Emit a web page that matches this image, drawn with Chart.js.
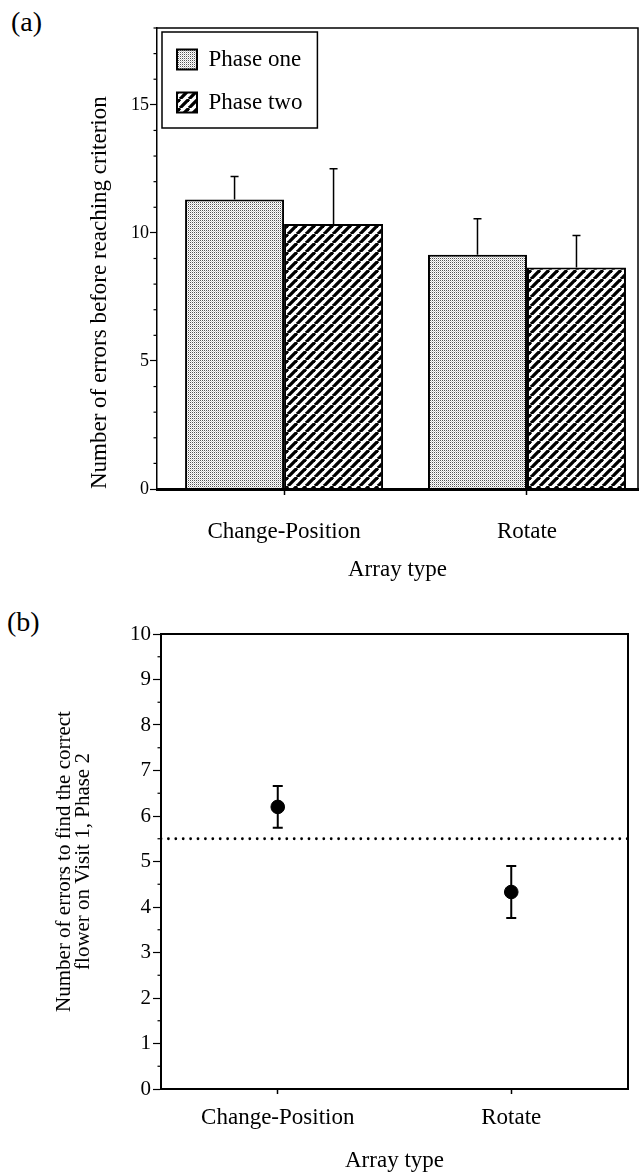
<!DOCTYPE html>
<html>
<head>
<meta charset="utf-8">
<script src="https://cdn.jsdelivr.net/npm/chart.js@4.4.1/dist/chart.umd.min.js"></script>
<style>
  html, body { margin: 0; padding: 0; background: #fff; overflow: hidden; }
  body { width: 639px; height: 1175px; position: relative; }
  .panel-label { position: absolute; font-family: 'Liberation Serif', 'Times New Roman', serif; font-size: 28px; line-height: 32px; color: #000; }
  canvas { position: absolute; left: 0; }
</style>
</head>
<body>
<div class="panel-label" style="left:11px;top:6px">(a)</div>
<canvas id="barChart" width="639" height="600" style="top:0"></canvas>
<div class="panel-label" style="left:7px;top:606px">(b)</div>
<canvas id="pointChart" width="639" height="575" style="top:600px"></canvas>
<script>
// panel (a): errors before reaching criterion
const categories = ["Change-Position", "Rotate"];
const phaseOne = [11.3, 9.15];
const phaseOneErr = [0.9, 1.4];
const phaseTwo = [10.35, 8.65];
const phaseTwoErr = [2.15, 1.25];
const barTicks = [0, 5, 10, 15];

// panel (b): errors on visit 1, phase 2
const visitErrors = [6.2, 4.33];
const visitErrorsSem = [0.46, 0.57];
const chanceLevel = 5.5;

Chart.defaults.font.family = "'Liberation Serif', 'Times New Roman', serif";
Chart.defaults.color = "#000";

function makeStipple() {
  const c = document.createElement("canvas");
  c.width = 2;
  c.height = 2;
  const ctx = c.getContext("2d");
  ctx.fillStyle = "#fff";
  ctx.fillRect(0, 0, 2, 2);
  ctx.fillStyle = "#555";
  ctx.fillRect(0, 0, 1, 1);
  ctx.fillStyle = "#cdcdcd";
  ctx.fillRect(1, 1, 1, 1);
  return ctx.createPattern(c, "repeat");
}

function makeHatch() {
  const s = 9;
  const c = document.createElement("canvas");
  c.width = s;
  c.height = s;
  const ctx = c.getContext("2d");
  ctx.fillStyle = "#fff";
  ctx.fillRect(0, 0, s, s);
  ctx.strokeStyle = "#000";
  ctx.lineWidth = 3.3;
  [-s, 0, s].forEach((k) => {
    ctx.beginPath();
    ctx.moveTo(k, s);
    ctx.lineTo(k + s, 0);
    ctx.stroke();
  });
  return ctx.createPattern(c, "repeat");
}

const errorBars = {
  id: "errorBars",
  afterDatasetsDraw(chart) {
    const ctx = chart.ctx;
    const yScale = chart.scales.y;
    chart.data.datasets.forEach((ds, i) => {
      if (!ds.errors) return;
      const meta = chart.getDatasetMeta(i);
      ctx.save();
      ctx.strokeStyle = "#000";
      ctx.lineWidth = ds.errorWidth;
      meta.data.forEach((el, j) => {
        const v = ds.data[j].y;
        const top = yScale.getPixelForValue(v + ds.errors[j]);
        const bottom = ds.errorsUpOnly ? el.y : yScale.getPixelForValue(v - ds.errors[j]);
        const half = ds.capHalf;
        ctx.beginPath();
        ctx.moveTo(el.x, top);
        ctx.lineTo(el.x, bottom);
        ctx.moveTo(el.x - half, top);
        ctx.lineTo(el.x + half, top);
        if (!ds.errorsUpOnly) {
          ctx.moveTo(el.x - half, bottom);
          ctx.lineTo(el.x + half, bottom);
        }
        ctx.stroke();
      });
      ctx.restore();
    });
  },
};

const minorTicks = {
  id: "minorTicks",
  afterDraw(chart, args, opts) {
    const y = chart.scales.y;
    const ctx = chart.ctx;
    const left = chart.chartArea.left;
    ctx.save();
    ctx.strokeStyle = "#000";
    ctx.lineWidth = 1.2;
    for (let v = y.min; v <= y.max + 1e-9; v += opts.step) {
      if (Math.abs(v / opts.major - Math.round(v / opts.major)) < 1e-6) continue;
      const p = y.getPixelForValue(v);
      ctx.beginPath();
      ctx.moveTo(left - opts.length, p);
      ctx.lineTo(left, p);
      ctx.stroke();
    }
    ctx.restore();
  },
};

const frame = {
  id: "frame",
  afterDraw(chart, args, opts) {
    const { left, top, right, bottom } = chart.chartArea;
    const ctx = chart.ctx;
    ctx.save();
    ctx.strokeStyle = "#000";
    ctx.lineWidth = opts.width;
    ctx.beginPath();
    ctx.moveTo(left, top);
    ctx.lineTo(right, top);
    ctx.lineTo(right, bottom);
    ctx.stroke();
    ctx.restore();
  },
};

const legendBox = {
  id: "legendBox",
  afterDraw(chart) {
    const boxes = chart.legend && chart.legend.legendHitBoxes;
    if (!boxes || !boxes.length) return;
    const x0 = Math.min(...boxes.map((b) => b.left)) - 15;
    const y0 = Math.min(...boxes.map((b) => b.top)) - 16;
    const x1 = Math.max(...boxes.map((b) => b.left + b.width)) + 15;
    const y1 = Math.max(...boxes.map((b) => b.top + b.height)) + 14;
    const ctx = chart.ctx;
    ctx.save();
    ctx.strokeStyle = "#000";
    ctx.lineWidth = 1.5;
    ctx.strokeRect(x0, y0, x1 - x0, y1 - y0);
    ctx.restore();
  },
};

new Chart(document.getElementById("barChart"), {
  type: "bar",
  data: {
    datasets: [
      {
        label: "Phase one",
        data: phaseOne.map((v, i) => ({ x: i + 1, y: v })),
        errors: phaseOneErr,
        errorsUpOnly: true,
        errorWidth: 1.5,
        capHalf: 4,
        backgroundColor: makeStipple(),
        borderColor: "#000",
        borderWidth: 2,
        categoryPercentage: 0.815,
        barPercentage: 1,
      },
      {
        label: "Phase two",
        data: phaseTwo.map((v, i) => ({ x: i + 1, y: v })),
        errors: phaseTwoErr,
        errorsUpOnly: true,
        errorWidth: 1.5,
        capHalf: 4,
        backgroundColor: makeHatch(),
        borderColor: "#000",
        borderWidth: 2,
        categoryPercentage: 0.815,
        barPercentage: 1,
      },
    ],
  },
  options: {
    responsive: false,
    animation: false,
    devicePixelRatio: 1,
    events: [],
    layout: { padding: { top: 28, right: 1, left: 0, bottom: 0 } },
    scales: {
      x: {
        type: "linear",
        min: 0.477,
        max: 2.457,
        offset: false,
        afterBuildTicks: (s) => {
          s.ticks = categories.map((c, i) => ({ value: i + 1 }));
        },
        afterFit: (s) => {
          s.height = 111;
        },
        ticks: {
          callback: (v) => categories[v - 1],
          font: { size: 23 },
          padding: 23,
          maxRotation: 0,
          autoSkip: false,
        },
        grid: { offset: false, drawOnChartArea: false, tickLength: 6, tickColor: "#000", tickWidth: 1.5 },
        border: { color: "#000", width: 3, z: 1 },
        title: { display: true, text: "Array type", font: { size: 23 }, padding: { top: 0, bottom: 16 } },
      },
      y: {
        min: 0,
        max: 18,
        afterBuildTicks: (s) => {
          s.ticks = barTicks.map((v) => ({ value: v }));
        },
        afterFit: (s) => {
          s.width = 157;
        },
        ticks: { font: { size: 18 }, padding: 1 },
        grid: { drawOnChartArea: false, tickLength: 7, tickColor: "#000", tickWidth: 1.2 },
        border: { color: "#000", width: 1.5 },
        title: {
          display: true,
          text: "Number of errors before reaching criterion",
          align: "start",
          font: { size: 23 },
          padding: { top: 86, bottom: 0 },
        },
      },
    },
    plugins: {
      legend: {
        position: "chartArea",
        align: "start",
        title: { display: true, text: "", font: { size: 10, lineHeight: 1 }, padding: { top: 9, bottom: 9 } },
        labels: { boxWidth: 20, boxHeight: 20, padding: 20, font: { size: 23 }, color: "#000" },
      },
      tooltip: { enabled: false },
      minorTicks: { step: 1, major: 5, length: 3.5 },
      frame: { width: 1.5 },
    },
  },
  plugins: [errorBars, minorTicks, frame, legendBox],
});

new Chart(document.getElementById("pointChart"), {
  type: "scatter",
  data: {
    datasets: [
      {
        label: "Chance",
        data: [
          { x: 0.5, y: chanceLevel },
          { x: 2.5, y: chanceLevel },
        ],
        showLine: true,
        pointRadius: 0,
        borderColor: "#000",
        borderWidth: 2.8,
        borderDash: [0, 7.4],
        borderCapStyle: "round",
      },
      {
        label: "Visit 1",
        data: visitErrors.map((v, i) => ({ x: i + 1, y: v })),
        errors: visitErrorsSem,
        errorWidth: 2,
        capHalf: 5,
        pointRadius: 6.8,
        pointBackgroundColor: "#000",
        pointBorderColor: "#000",
        pointBorderWidth: 1,
      },
    ],
  },
  options: {
    responsive: false,
    animation: false,
    devicePixelRatio: 1,
    events: [],
    layout: { padding: { top: 34, right: 11, left: 0, bottom: 0 } },
    scales: {
      x: {
        type: "linear",
        min: 0.5,
        max: 2.5,
        afterBuildTicks: (s) => {
          s.ticks = categories.map((c, i) => ({ value: i + 1 }));
        },
        afterFit: (s) => {
          s.height = 86;
        },
        ticks: {
          callback: (v) => categories[v - 1],
          font: { size: 23 },
          padding: 10,
          maxRotation: 0,
          autoSkip: false,
        },
        grid: { drawOnChartArea: false, tickLength: 5, tickColor: "#000", tickWidth: 1.5 },
        border: { color: "#000", width: 2, z: 1 },
        title: { display: true, text: "Array type", font: { size: 23 }, padding: { top: 0, bottom: 0 } },
      },
      y: {
        min: 0,
        max: 10,
        ticks: { stepSize: 1, font: { size: 21 }, padding: 2 },
        afterFit: (s) => {
          s.width = 161;
        },
        grid: { drawOnChartArea: false, tickLength: 8, tickColor: "#000", tickWidth: 1.2 },
        border: { color: "#000", width: 2 },
        title: {
          display: true,
          text: ["Number of errors to find the correct", "flower on Visit 1, Phase 2"],
          font: { size: 21, lineHeight: 0.9 },
          padding: { top: 55.5, bottom: 0 },
        },
      },
    },
    plugins: {
      legend: { display: false },
      tooltip: { enabled: false },
      minorTicks: { step: 0.5, major: 1, length: 3.5 },
      frame: { width: 2 },
    },
  },
  plugins: [errorBars, minorTicks, frame],
});
</script>
</body>
</html>
